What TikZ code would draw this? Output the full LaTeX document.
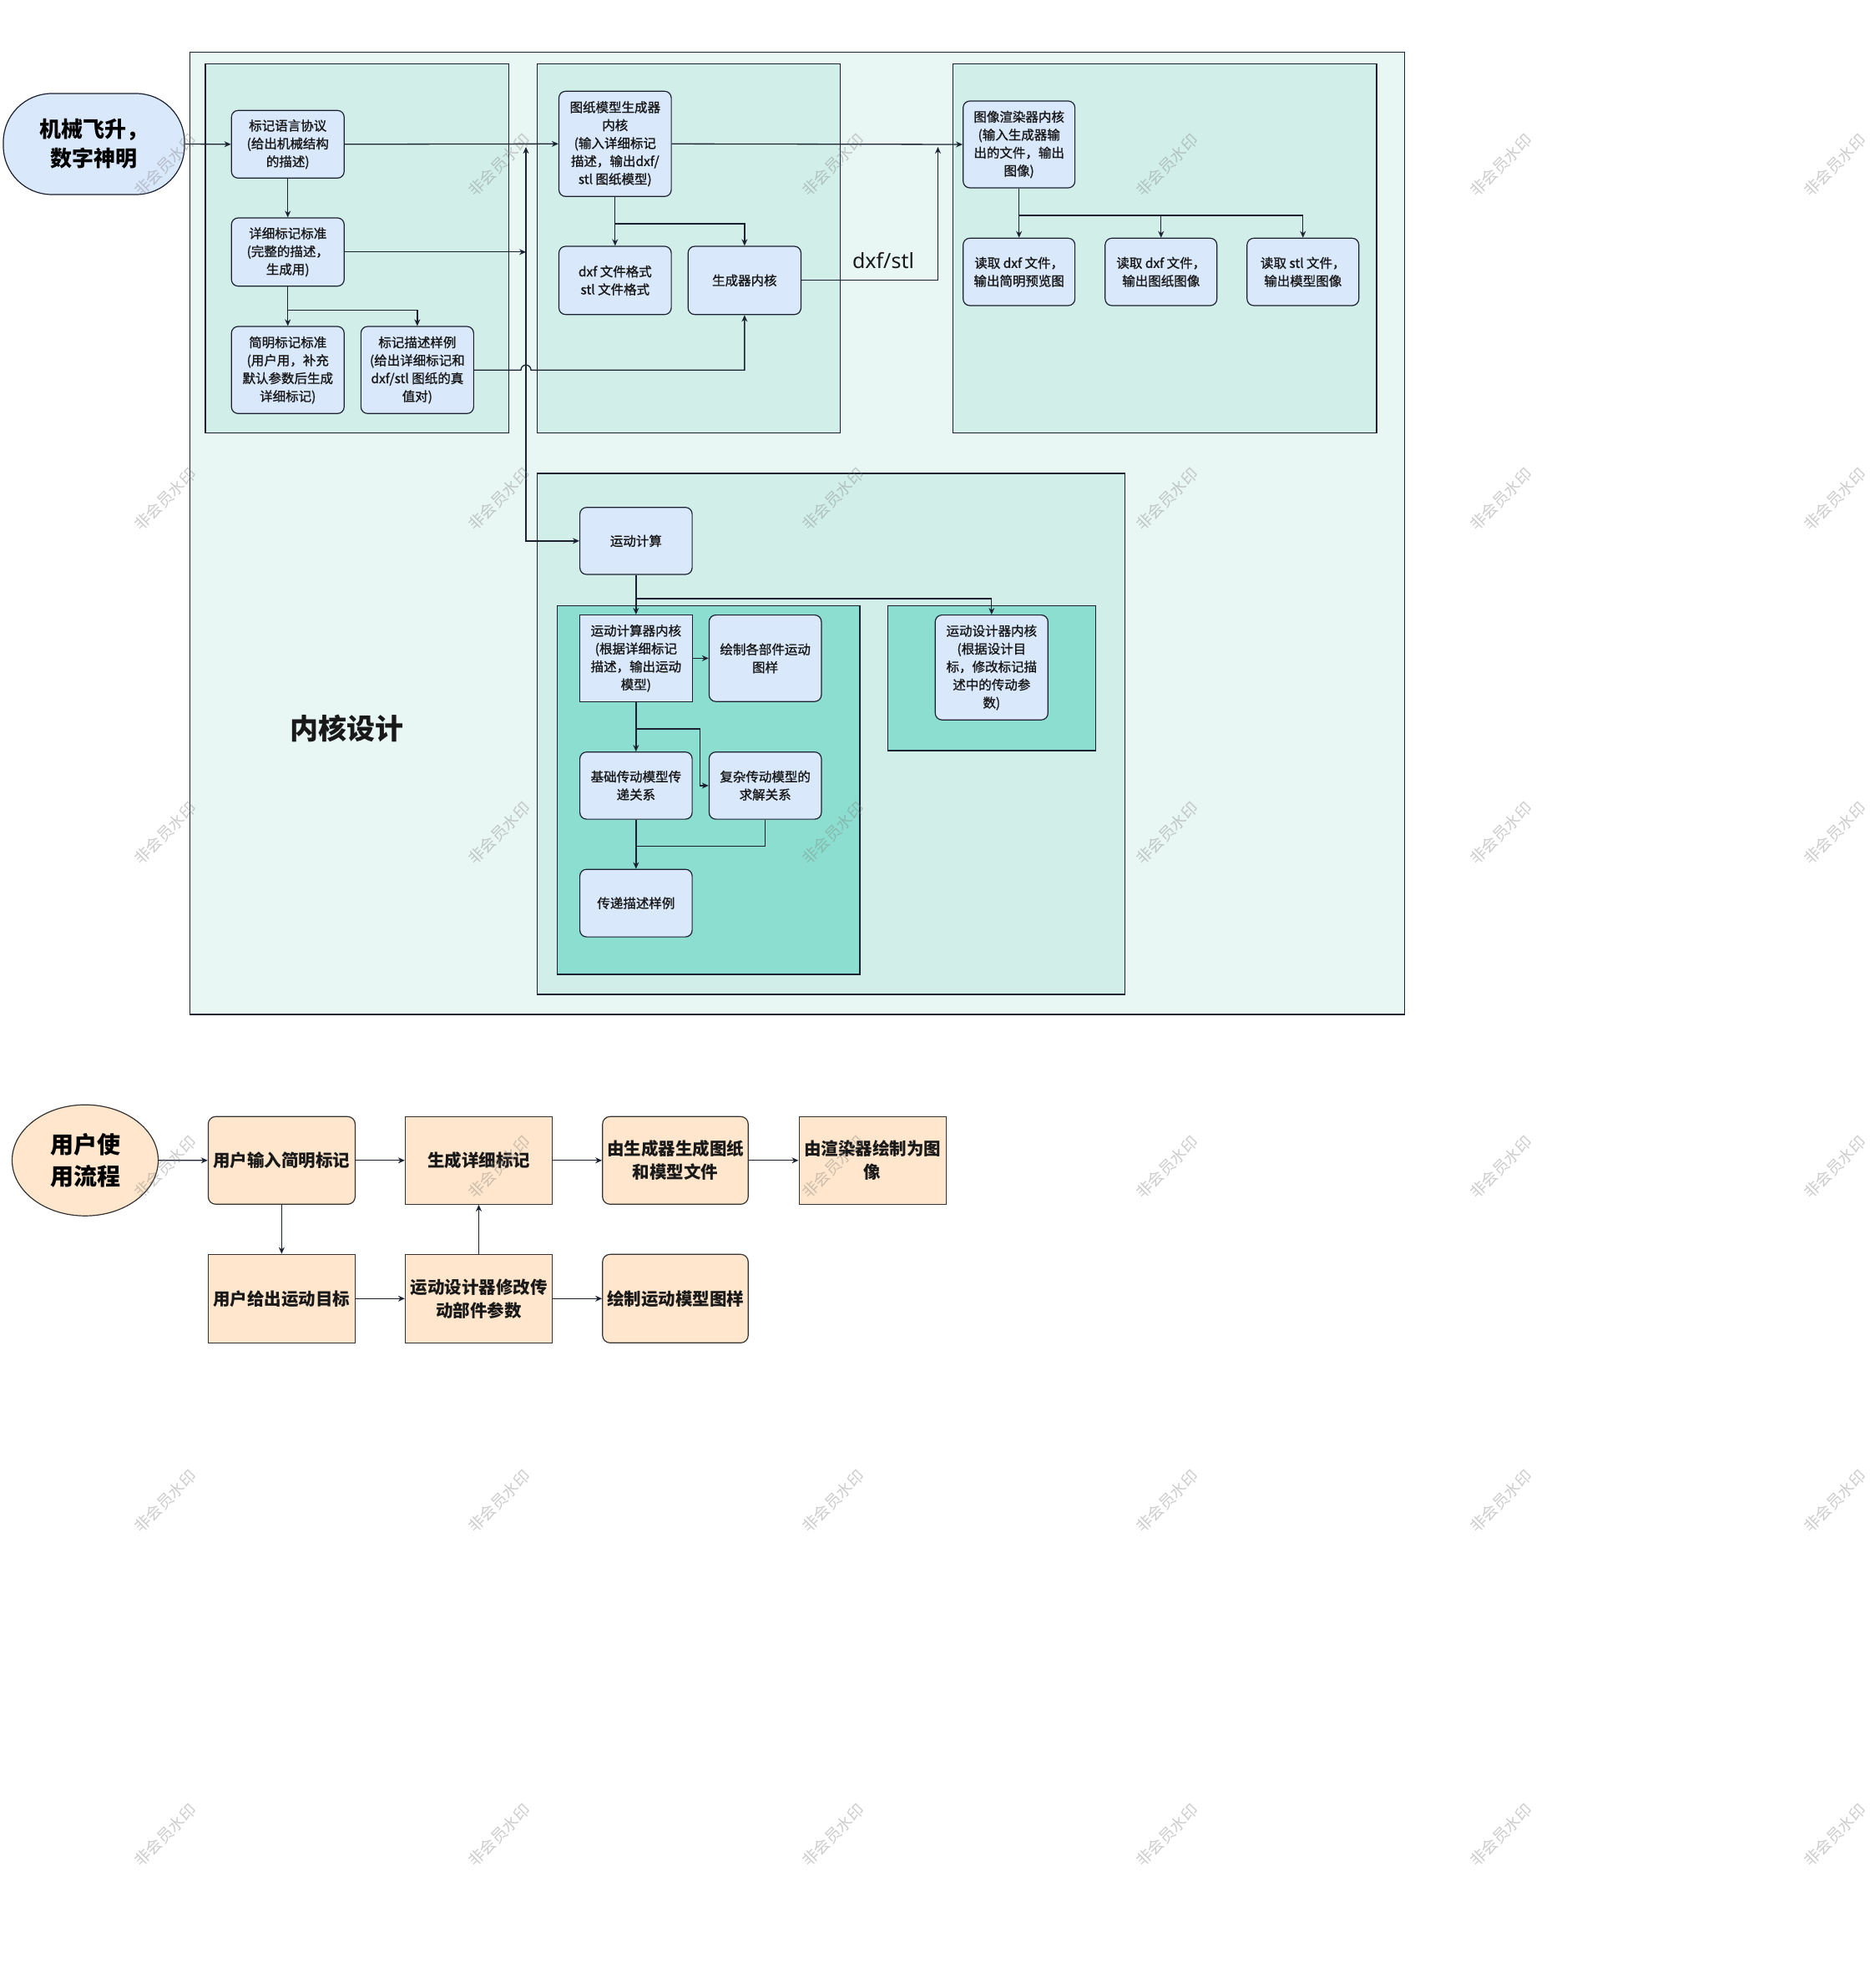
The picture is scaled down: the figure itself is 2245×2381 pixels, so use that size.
\documentclass[tikz,border=0pt]{standalone}
\usepackage{fontspec}
\setmainfont{Noto Sans CJK SC}
\newfontfamily\medcjk{Noto Sans CJK SC}[RawFeature={embolden=1.3}]
\newfontfamily\latinsans{Noto Sans}
\usetikzlibrary{arrows.meta,shapes.geometric}
\definecolor{lc}{HTML}{1B2130}
\definecolor{outerfill}{HTML}{E8F7F4}
\definecolor{panelfill}{HTML}{D1EFE8}
\definecolor{motfill}{HTML}{8CDFD0}
\definecolor{boxfill}{HTML}{DAE8FC}
\definecolor{peach}{HTML}{FFE6CC}
\newcommand\smallfs{\medcjk\fontsize{15.5}{21.5}\selectfont}
\newcommand\flowfs{\fontsize{20.5}{28}\selectfont\bfseries}
\tikzset{
  box/.style={draw=lc, fill=boxfill, rounded corners=8pt, line width=1.2pt, align=center,
    inner sep=0pt, font=\smallfs, text=black!90, minimum width=135pt},
  sqbox/.style={box, rounded corners=0pt},
  fbox/.style={draw=black!80, fill=peach, rounded corners=9pt, line width=1.2pt, align=center,
    inner sep=0pt, font=\flowfs, text=black!90, minimum width=176pt, minimum height=105pt},
  fsq/.style={fbox, rounded corners=0pt},
  arr/.style={draw=lc, line width=1.3pt, -{Stealth[length=8pt,width=7pt]}},
  ln/.style={draw=lc, line width=1.3pt},
  container/.style={draw=lc, line width=1.5pt},
  wm/.style={rotate=45, text=gray, text opacity=0.4, font=\fontsize{19}{19}\selectfont, inner sep=0pt}
}
\begin{document}
\begin{tikzpicture}[x=1pt,y=-1pt]
\useasboundingbox[fill=white] (0,0) rectangle (2245,2381);

% containers
\path[container, fill=outerfill] (227.3,62.3) rectangle (1682.7,1215);
\path[container, fill=panelfill] (246.2,76.3) rectangle (609.5,518.3);
\path[container, fill=panelfill] (643.4,76.3) rectangle (1006.4,518.3);
\path[container, fill=panelfill] (1141.6,76.3) rectangle (1649.2,518.3);
\path[container, fill=panelfill] (643.6,567) rectangle (1347.4,1190.9);
\path[container, fill=motfill] (667.7,725.4) rectangle (1030.2,1167.2);
\path[container, fill=motfill] (1063.7,725.4) rectangle (1312.4,899.1);

% start
\node[draw=lc, fill=boxfill, line width=1.2pt, rounded corners=58pt, minimum width=217pt, minimum height=121pt,
  inner sep=0pt, align=center, font=\fontsize{26}{35}\selectfont\bfseries] (e1) at (112.5,172.5) {机械飞升，\\数字神明};

% panel A
\node[box, minimum height=81pt] (a1) at (344.75,172.8) {标记语言协议\\(给出机械结构\\的描述)};
\node[box, minimum height=81.7pt] (a2) at (344.75,301.85) {详细标记标准\\(完整的描述，\\生成用)};
\node[box, minimum height=104.3pt] (a3) at (344.75,443.15) {简明标记标准\\(用户用，补充\\默认参数后生成\\详细标记)};
\node[box, minimum height=104.3pt] (a4) at (499.85,443.15) {标记描述样例\\(给出详细标记和\\dxf/stl 图纸的真\\值对)};

% panel B
\node[box, minimum width=134.6pt, minimum height=126pt] (b1) at (736.8,172.3) {图纸模型生成器\\内核\\(输入详细标记\\描述，输出dxf/\\stl 图纸模型)};
\node[box, minimum width=134.6pt, minimum height=81.7pt] (b2) at (736.8,335.85) {dxf 文件格式\\stl 文件格式};
\node[box, minimum width=135.3pt, minimum height=81.7pt] (b3) at (891.85,335.85) {生成器内核};

% panel C
\node[box, minimum width=133.9pt, minimum height=104pt] (c1) at (1220.65,173) {图像渲染器内核\\(输入生成器输\\出的文件，输出\\图像)};
\node[box, minimum width=133.9pt, minimum height=80.7pt] (c2) at (1220.65,325.65) {读取 dxf 文件，\\输出简明预览图};
\node[box, minimum width=133.9pt, minimum height=80.7pt] (c3) at (1390.75,325.65) {读取 dxf 文件，\\输出图纸图像};
\node[box, minimum width=133.9pt, minimum height=80.7pt] (c4) at (1560.75,325.65) {读取 stl 文件，\\输出模型图像};

% motion
\node[box, minimum width=134.5pt, minimum height=80.3pt] (m0) at (761.85,647.85) {运动计算};
\node[sqbox, minimum width=134.5pt, minimum height=103.6pt] (m1) at (761.85,788.4) {运动计算器内核\\(根据详细标记\\描述，输出运动\\模型)};
\node[box, minimum width=134.5pt, minimum height=103.6pt] (m2) at (916.65,788.4) {绘制各部件运动\\图样};
\node[box, minimum width=134.5pt, minimum height=80.4pt] (m3) at (761.85,940.9) {基础传动模型传\\递关系};
\node[box, minimum width=134.5pt, minimum height=80.4pt] (m4) at (916.65,940.9) {复杂传动模型的\\求解关系};
\node[box, minimum width=134.5pt, minimum height=80.9pt] (m5) at (761.85,1081.65) {传递描述样例};
\node[box, minimum width=135pt, minimum height=125.6pt] (m6) at (1187.8,799.4) {运动设计器内核\\(根据设计目\\标，修改标记描\\述中的传动参\\数)};

\node[font=\fontsize{34}{34}\selectfont\bfseries, text=black!90] (title) at (415,872) {内核设计};

% connectors top
\draw[arr] (e1.east) -- (a1.west);
\draw[arr] (a1.south) -- (a2.north);
\draw[arr] (a2.south) -- (a3.north);
\draw[arr] (a2.south) -- ++(0,28) -| (a4.north);
\draw[arr] (a1.east) -- (b1.west);
\coordinate (j) at (630,301.85);
\coordinate (jt) at (630,176);
\draw[arr] (a2.east) -- (j);
\draw[arr] (j) -- (jt);
\draw[arr] (j) |- (m0.west);
\draw[arr] (a4.east) -- (624,443.15) arc[start angle=180, end angle=0, radius=6pt] -| (b3.south);
\draw[arr] (b1.east) -- (c1.west);
\draw[arr] (b1.south) -- (b2.north);
\draw[arr] (b1.south) -- ++(0,32) -| (b3.north);
\coordinate (gt) at (1123.5,176);
\draw[arr] (b3.east) -| (gt);
\node[font=\latinsans\fontsize{25}{25}\selectfont, text=black!90] (dxflabel) at (1058,312) {dxf/stl};
\draw[arr] (c1.south) -- (c2.north);
\draw[arr] (c1.south) -- ++(0,32.3) -| (c3.north);
\draw[arr] (c1.south) -- ++(0,32.3) -| (c4.north);

% connectors motion
\draw[arr] (m0.south) -- (m1.north);
\draw[arr] (m0.south) -- ++(0,28.3) -| (m6.north);
\draw[arr] (m1.east) -- (m2.west);
\draw[arr] (m1.south) -- (m3.north);
\draw[arr] (m1.south) -- ++(0,32.3) -- ++(76.65,0) |- (m4.west);
\draw[arr] (m3.south) -- (m5.north);
\coordinate (mj) at (761.85,1013.2);
\draw[ln] (m4.south) |- (mj);

% user flow
\node[ellipse, draw=black!80, fill=peach, line width=1.2pt, minimum width=175pt, minimum height=133pt, inner sep=0pt,
  align=center, font=\fontsize{28}{38}\selectfont\bfseries] (u0) at (102,1389.7) {用户使\\用流程};
\node[fbox] (u1) at (337.4,1389.8) {用户输入简明标记};
\node[fsq] (u2) at (573.5,1389.8) {生成详细标记};
\node[fbox, minimum width=174.5pt] (u3) at (809,1389.8) {由生成器生成图纸\\和模型文件};
\node[fsq] (u4) at (1045.1,1389.8) {由渲染器绘制为图\\像};
\node[fsq, minimum height=106pt] (v1) at (337.4,1555.3) {用户给出运动目标};
\node[fsq, minimum height=106pt] (v2) at (573.5,1555.3) {运动设计器修改传\\动部件参数};
\node[fbox, minimum width=174.5pt, minimum height=106pt] (v3) at (809,1555.3) {绘制运动模型图样};

\draw[arr] (u0.east) -- (u1.west);
\draw[arr] (u1.east) -- (u2.west);
\draw[arr] (u2.east) -- (u3.west);
\draw[arr] (u3.east) -- (u4.west);
\draw[arr] (u1.south) -- (v1.north);
\draw[arr] (v1.east) -- (v2.west);
\draw[arr] (v2.north) -- (u2.south);
\draw[arr] (v2.east) -- (v3.west);

% watermarks
\foreach \i in {0,...,5}{
  \foreach \k in {0,...,5}{
    \node[wm] (wm-\i-\k) at ({198+400*\i},{198+400*\k}) {非会员水印};
  }
}
\end{tikzpicture}
\end{document}
